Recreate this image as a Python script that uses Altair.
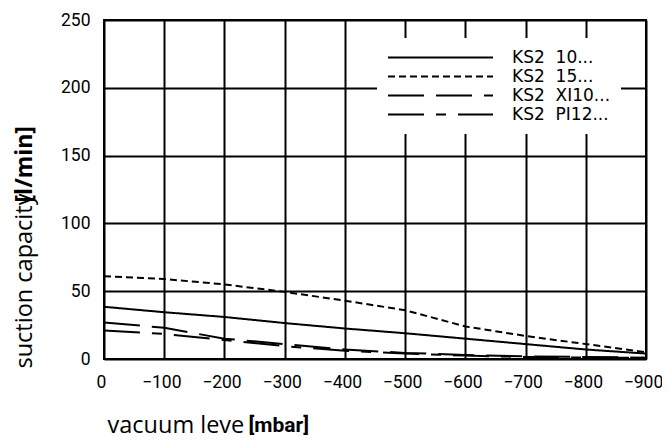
import altair as alt
import pandas as pd

# ---- data ----
vacuum = [0, -100, -200, -300, -400, -500, -600, -700, -800, -900]
ks2_10 = [38.5, 34.5, 31, 26.5, 22.5, 19, 15, 11, 7, 4]
ks2_15 = [61, 59, 55, 49.5, 43, 36, 24, 17, 11, 5]
ks2_xi10 = [27, 23, 15, 11, 7, 4.5, 3, 2, 1.5, 1]
ks2_pi12 = [21, 18.5, 14, 9.5, 6, 4, 2.5, 1.5, 1, 1]
series_names = ["KS2\u00a0 10...", "KS2\u00a0 15...", "KS2\u00a0 XI10...", "KS2\u00a0 PI12..."]
series_values = [ks2_10, ks2_15, ks2_xi10, ks2_pi12]
x_ticks = [0, -100, -200, -300, -400, -500, -600, -700, -800, -900]
y_ticks = [0, 50, 100, 150, 200, 250]

rows = []
for name, vals in zip(series_names, series_values):
    for v, c in zip(vacuum, vals):
        rows.append({"vacuum": v, "capacity": c, "series": name})
df = pd.DataFrame(rows)

tick_font = "Roboto"
title_font = "Open Sans"

x_scale = alt.Scale(domain=[0, -900], nice=False)
y_scale = alt.Scale(domain=[0, 250], nice=False)

lines = alt.Chart(df).mark_line(strokeWidth=2, color="black", clip=True).encode(
    x=alt.X("vacuum:Q", scale=x_scale,
            axis=alt.Axis(values=x_ticks, grid=True, gridColor="black", gridWidth=2, gridOpacity=1,
                          domain=False, ticks=False, tickSize=0, labelPadding=14,
                          labelOverlap=False, labelBound=False, labelFlush=False, labelOffset=-3,
                          labelFont=tick_font, labelFontSize=17.5, labelColor="black",
                          title="vacuum leve", titleFont=title_font, titleFontSize=23.5,
                          titleFontWeight="normal", titleColor="black",
                          titleX=3, titleY=66, titleAlign="left", titleBaseline="middle",
                          orient="bottom")),
    y=alt.Y("capacity:Q", scale=y_scale,
            axis=alt.Axis(values=y_ticks, grid=True, gridColor="black", gridWidth=2, gridOpacity=1,
                          domain=False, ticks=False, tickSize=0, labelPadding=14,
                          labelOverlap=False, labelBound=False, labelFlush=False,
                          labelFont=tick_font, labelFontSize=17.5, labelColor="black",
                          title="suction capacity", titleFont=title_font, titleFontSize=23.5,
                          titleFontWeight="normal", titleColor="black",
                          titleX=-80, titleY=348, titleAngle=270, titleAlign="left",
                          titleBaseline="middle", orient="left")),
    strokeDash=alt.StrokeDash(
        "series:N",
        scale=alt.Scale(domain=series_names,
                        range=[[1, 0], [7, 4], [36, 12], [36, 12, 10, 12]]),
        legend=alt.Legend(title=None, orient="none", legendX=273, legendY=18,
                          fillColor="white", padding=10, symbolType="stroke",
                          symbolSize=11025, symbolStrokeWidth=2, symbolStrokeColor="black",
                          clipHeight=19, labelOffset=18, rowPadding=0,
                          labelFont="DejaVu Sans", labelFontSize=17, labelColor="black",
                          labelLimit=300)),
)

units = alt.Chart(df).mark_point(opacity=0, size=0).encode(
    x=alt.X("vacuum:Q", scale=x_scale,
            axis=alt.Axis(grid=False, labels=False, ticks=False, domain=False,
                          title="[mbar]", titleFont="Roboto", titleFontSize=21,
                          titleFontWeight="bold", titleColor="black",
                          titleX=144, titleY=66, titleAlign="left", titleBaseline="middle",
                          orient="bottom")),
    y=alt.Y("capacity:Q", scale=y_scale,
            axis=alt.Axis(grid=False, labels=False, ticks=False, domain=False,
                          title="[l/min]", titleFont=title_font, titleFontSize=23,
                          titleFontWeight="bold", titleColor="black",
                          titleX=-80, titleY=182, titleAngle=270, titleAlign="left",
                          titleBaseline="middle", orient="left")),
)

chart = alt.layer(lines, units).resolve_axis(x="independent", y="independent").properties(
    width=542, height=339,
    autosize=alt.AutoSizeParams(type="none"),
    padding={"left": 96, "top": 12, "right": 16, "bottom": 88},
    background="white",
).configure_view(stroke="black", strokeWidth=2)

chart.save("out.html", embed_options={"renderer": "svg", "actions": False})
